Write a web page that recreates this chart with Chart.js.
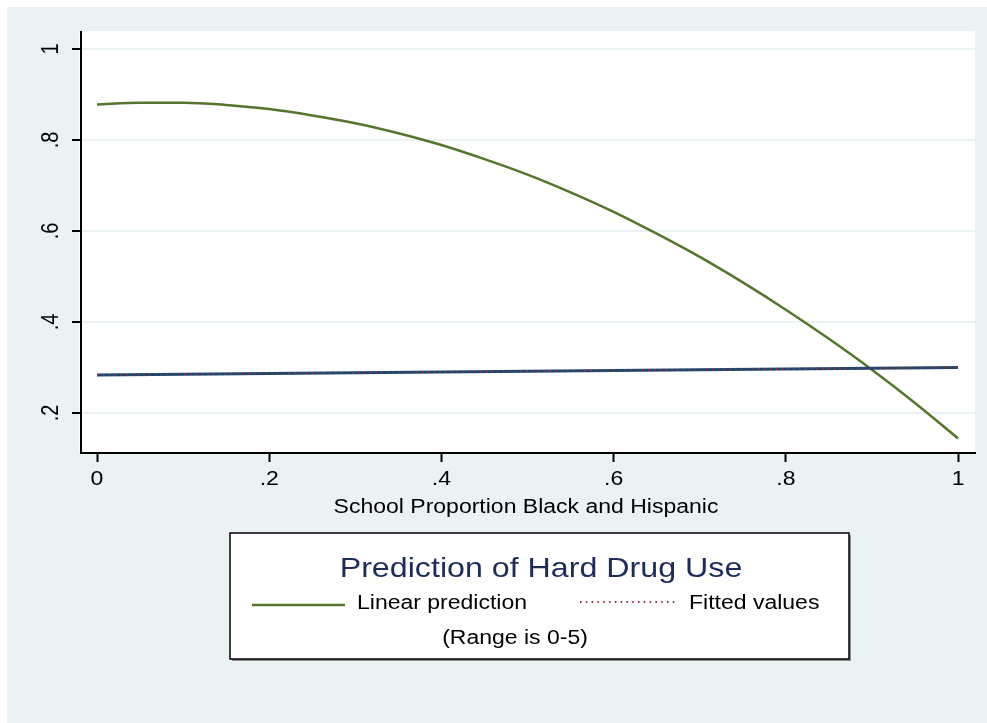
<!DOCTYPE html>
<html>
<head>
<meta charset="utf-8">
<title>Prediction of Hard Drug Use</title>
<script src="https://cdn.jsdelivr.net/npm/chart.js@4/dist/chart.umd.min.js"></script>
<style>
    html, body { margin: 0; padding: 0; background: #fff; }
    #wrap { position: relative; width: 987px; height: 723px; }
</style>
</head>
<body>
<div id="wrap"><canvas id="chart" width="987" height="723"></canvas></div>
<script>
// Values
const propX = [0, 0.05, 0.1, 0.15, 0.2, 0.25, 0.3, 0.35, 0.4, 0.45, 0.5,
               0.55, 0.6, 0.65, 0.7, 0.75, 0.8, 0.85, 0.9, 0.95, 1];
const linearPrediction = [0.878, 0.882, 0.882, 0.877, 0.868, 0.854, 0.837, 0.815, 0.789, 0.758, 0.724,
                          0.685, 0.642, 0.594, 0.543, 0.487, 0.427, 0.363, 0.295, 0.222, 0.144];
const fitX = [0, 1];
const fitLine = [0.2835, 0.300];
const fittedValues = [0.2835, 0.300];

const xTicks = [0, 0.2, 0.4, 0.6, 0.8, 1];
const xTickLabels = ['0', '.2', '.4', '.6', '.8', '1'];
const yTicks = [0.2, 0.4, 0.6, 0.8, 1];
const yTickLabels = ['.2', '.4', '.6', '.8', '1'];

const xTitle = 'School Proportion Black and Hispanic';
const legendTitle = 'Prediction of Hard Drug Use';
const legendNote = '(Range is 0-5)';

// Styles
const BG = '#EAF2F3';
const FONT = '"Liberation Sans", Arial, Helvetica, sans-serif';
const STRETCH = 1.15;   // reference text is a bit wider than Arial

const points = (xs, ys) => xs.map((x, i) => ({ x: x, y: ys[i] }));

// text helper: alphabetic baseline, optional rotation, horizontal stretch
function drawText(ctx, text, x, y, size, opts = {}) {
    ctx.save();
    ctx.translate(x, y);
    ctx.font = `${size}px ${FONT}`;
    ctx.fillStyle = opts.color || '#000';
    ctx.textAlign = opts.align || 'left';
    ctx.textBaseline = opts.baseline || 'alphabetic';
    if (opts.rotate) {
        ctx.rotate(-Math.PI / 2);
        ctx.scale(1, STRETCH);
    } else {
        ctx.scale(STRETCH, 1);
    }
    ctx.fillText(text, 0, 0);
    ctx.restore();
}

function drawSample(ctx, ds, x1, x2, y) {
    ctx.save();
    ctx.strokeStyle = ds.borderColor;
    ctx.lineWidth = ds.borderWidth;
    ctx.setLineDash(ds.borderDash || []);
    ctx.beginPath();
    ctx.moveTo(x1, y);
    ctx.lineTo(x2, y);
    ctx.stroke();
    ctx.restore();
}

const stataFrame = {
    id: 'stataFrame',
    beforeDraw(chart) {
        const { ctx, chartArea: a } = chart;
        ctx.save();
        ctx.fillStyle = '#fff';
        ctx.fillRect(0, 0, chart.width, chart.height);
        ctx.fillStyle = BG;
        ctx.fillRect(7, 7, chart.width - 7, chart.height - 7);
        ctx.fillStyle = '#fff';
        ctx.fillRect(a.left - 2, a.top - 1, a.right - a.left + 2, a.bottom - a.top + 1);
        ctx.restore();
    },
    afterDraw(chart) {
        const ctx = chart.ctx;
        const xs = chart.scales.x;
        const ys = chart.scales.y;

        // tick labels
        xTicks.forEach((v, i) => {
            drawText(ctx, xTickLabels[i], xs.getPixelForValue(v), 485, 20, { align: 'center' });
        });
        yTicks.forEach((v, i) => {
            drawText(ctx, yTickLabels[i], 58, ys.getPixelForValue(v), 20, { align: 'center', rotate: true });
        });

        // axis title
        drawText(ctx, xTitle, (xs.left + xs.right) / 2 - 2, 513, 20, { align: 'center' });

        // legend box
        const box = { x: 230, y: 533, w: 619, h: 126 };
        ctx.save();
        ctx.fillStyle = '#8c8c8c';
        ctx.fillRect(box.x + 2, box.y + 2, box.w, box.h);
        ctx.fillStyle = '#fff';
        ctx.fillRect(box.x, box.y, box.w, box.h);
        ctx.strokeStyle = '#000';
        ctx.lineWidth = 1.5;
        ctx.strokeRect(box.x, box.y, box.w, box.h);
        ctx.restore();

        drawText(ctx, legendTitle, 541, 577, 28, { align: 'center', color: '#1E2C58' });

        const dsPred = chart.data.datasets[0];
        const dsFit = chart.data.datasets[2];
        drawSample(ctx, dsPred, 252, 345, 605);
        drawText(ctx, dsPred.label, 357, 609, 20);
        drawSample(ctx, dsFit, 580, 677, 602);
        drawText(ctx, dsFit.label, 689, 609, 20);

        drawText(ctx, legendNote, 515, 644, 20, { align: 'center' });
    }
};

new Chart(document.getElementById('chart'), {
    type: 'line',
    data: {
        datasets: [
            {
                label: 'Linear prediction',
                data: points(propX, linearPrediction),
                borderColor: '#55752F',
                borderWidth: 2.5,
                pointRadius: 0,
                cubicInterpolationMode: 'monotone',
                order: 3
            },
            {
                label: '',
                data: points(fitX, fitLine),
                borderColor: '#1A476F',
                borderWidth: 3,
                pointRadius: 0,
                order: 2
            },
            {
                label: 'Fitted values',
                data: points(fitX, fittedValues),
                borderColor: '#90353B',
                borderWidth: 1.8,
                borderDash: [1.5, 4.3],
                pointRadius: 0,
                order: 1
            }
        ]
    },
    options: {
        responsive: false,
        animation: false,
        devicePixelRatio: 1,
        layout: { padding: { top: 32, right: 12, bottom: 0, left: 0 } },
        plugins: {
            legend: { display: false },
            tooltip: { enabled: false }
        },
        scales: {
            x: {
                type: 'linear',
                min: -0.0186,
                max: 1.0197,
                afterBuildTicks: scale => { scale.ticks = xTicks.map(v => ({ value: v })); },
                afterFit: scale => { scale.height = 270; },
                ticks: { display: false },
                grid: {
                    drawOnChartArea: false,
                    drawTicks: true,
                    tickLength: 9,
                    tickColor: '#000',
                    tickWidth: 2
                },
                border: { display: true, color: '#000', width: 2 }
            },
            y: {
                type: 'linear',
                min: 0.112,
                max: 1.0374,
                afterBuildTicks: scale => { scale.ticks = yTicks.map(v => ({ value: v })); },
                afterFit: scale => { scale.width = 81; },
                ticks: { display: false },
                grid: {
                    color: BG,
                    lineWidth: 2,
                    drawTicks: true,
                    tickLength: 9,
                    tickColor: '#000',
                    tickWidth: 2
                },
                border: { display: true, color: '#000', width: 2 }
            }
        }
    },
    plugins: [stataFrame]
});
</script>
</body>
</html>
